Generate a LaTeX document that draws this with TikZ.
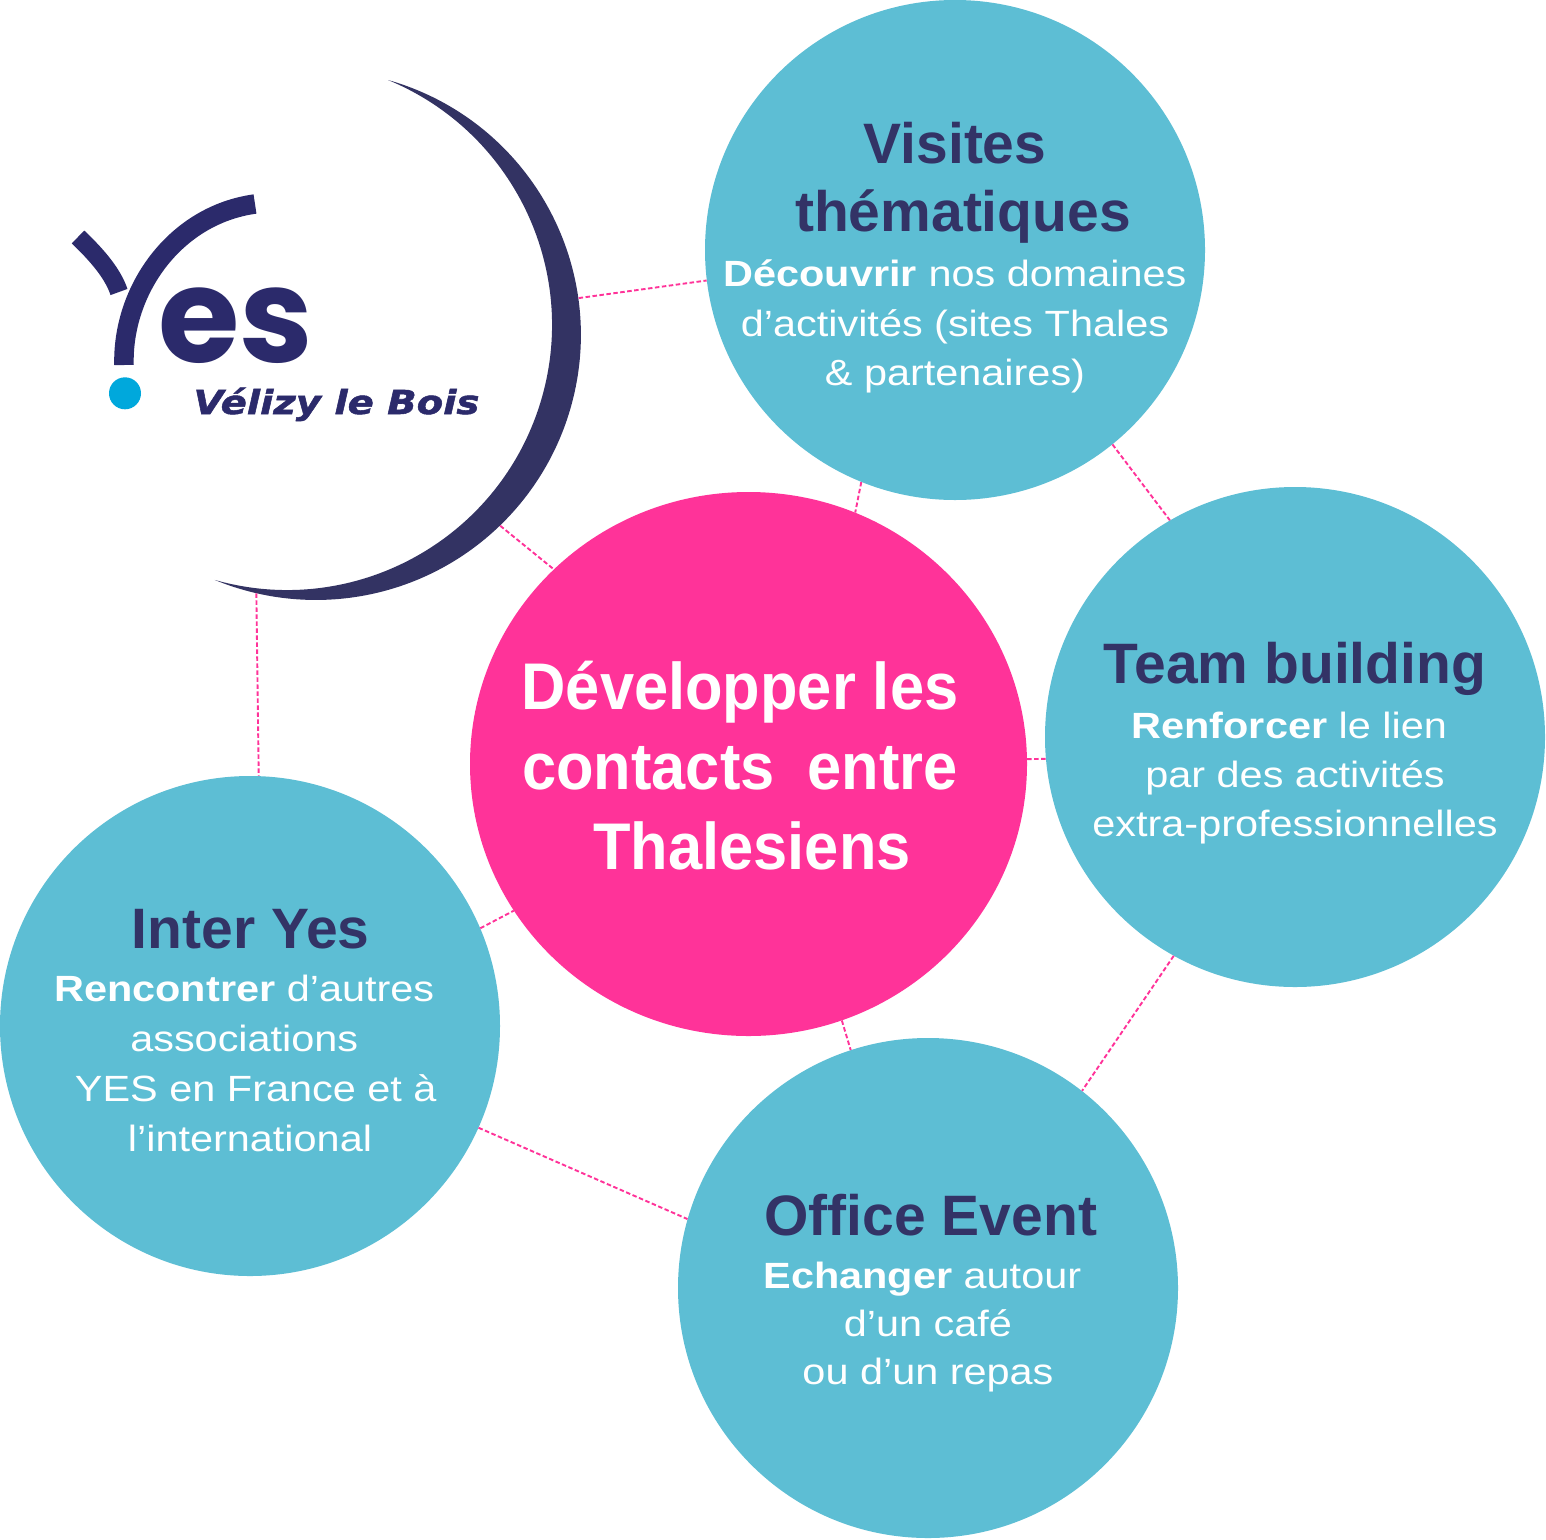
\documentclass[tikz,border=0pt]{standalone}
\usepackage{fontspec}
\usetikzlibrary{shapes.geometric}
\setmainfont{Liberation Sans}
\newfontfamily\titlefam{Liberation Sans}
\newfontfamily\bodyfam[FakeStretch=1.135]{Liberation Sans}
\newfontfamily\pinkfam[FakeStretch=0.93]{Liberation Sans}
\newfontfamily\logofam{Poppins}
\newfontfamily\velfam[FakeStretch=1.17,FakeBold=1.6]{DejaVu Sans}
\definecolor{tealc}{HTML}{5DBED4}
\definecolor{pinkc}{HTML}{FF3399}
\definecolor{navyc}{HTML}{333366}
\definecolor{moonc}{HTML}{333363}
\definecolor{logoc}{HTML}{2B2A6B}
\definecolor{dotc}{HTML}{00A8DC}
\newcommand\linestack[2]{\vtop{\baselineskip=#1\lineskiplimit=-1000pt\lineskip=0pt\halign{\hfil##\hfil\cr#2\crcr}}}
\tikzset{
  bub/.style={circle, fill=tealc, minimum size=500pt, inner sep=0pt},
  conn/.style={draw=pinkc, line width=1.9pt, dash pattern=on 4.5pt off 2.5pt},
  ttl/.style={anchor=base, inner sep=0pt, text=navyc, font=\titlefam\bfseries\fontsize{57}{68.7}\selectfont},
  dsc/.style={anchor=base, inner sep=0pt, text=white, font=\bodyfam\fontsize{36.5}{50}\selectfont},
}
\begin{document}
\begin{tikzpicture}[x=1pt,y=-1pt]
\useasboundingbox (0,0) rectangle (1546,1539);
\fill[white] (0,0) rectangle (1546,1539);
% bubbles
\node[bub] (vis) at (955,250) {};
\node[bub] (team) at (1295,737) {};
\node[bub] (office) at (928,1288) {};
\node[bub] (inter) at (250,1026) {};
\node[ellipse, fill=pinkc, minimum width=557pt, minimum height=544pt, inner sep=0pt] (dev) at (748.5,764) {};
\node[circle, minimum size=530pt, inner sep=0pt] (logo) at (316,335) {};
% crescent
\fill[moonc] (388,80) arc[start angle=-74.2, end angle=112.4, radius=265]
  arc[start angle=105.8, end angle=-67.6, radius=265] -- cycle;
% logo
\draw[logoc, line width=18pt] (78,237) .. controls (98,256) and (113,274) .. (119,292);
\draw[logoc, line width=19.5pt] (124,365) .. controls (122,290) and (175,215) .. (255,204);
\fill[dotc] (125,393.3) circle[radius=16];
\node[anchor=base, inner sep=0pt, text=logoc, font=\logofam\bfseries\fontsize{132}{132}\selectfont] (es) at (235.5,362) {es};
\node[anchor=base, inner sep=0pt, text=logoc, font=\velfam\bfseries\itshape\fontsize{33}{34}\selectfont] (vel) at (336.5,414) {Vélizy le Bois};
% connectors
\draw[conn] (logo.8) -- (vis.187);
\draw[conn] (logo.-46) -- (dev.135);
\draw[conn] (vis.-112) -- (dev.67);
\draw[conn] (vis.-51) -- (team.120);
\draw[conn] (dev.1) -- (team.185);
\draw[conn] (team.-119) -- (office.52);
\draw[conn] (dev.-70) -- (office.108);
\draw[conn] (inter.23) -- (dev.-148);
\draw[conn] (inter.-24) -- (office.164);
\draw[conn] (logo.-103) -- (inter.88);
% texts
\node[ttl] (visT) at (955,163) {\linestack{68.7pt}{Visites\cr \kern16pt thématiques}};
\node[dsc] (visD) at (955,286.7) {\linestack{49.6pt}{\textbf{Découvrir} nos domaines\cr d’activités (sites Thales\cr \& partenaires)}};
\node[ttl] (teamT) at (1295,683.3) {Team building};
\node[dsc] (teamD) at (1295,738.3) {\linestack{49.2pt}{\textbf{Renforcer} le lien\ \cr par des activités\cr extra-professionnelles}};
\node[ttl] (interT) at (250.8,948.3) {Inter Yes};
\node[dsc] (interD) at (250,1001.7) {\linestack{50pt}{\textbf{Rencontrer} d’autres\ \cr associations\ \cr \ YES en France et à\cr l’international}};
\node[ttl] (officeT) at (930.8,1235) {Office Event};
\node[dsc] (officeD) at (928,1288.3) {\linestack{48.3pt}{\textbf{Echanger} autour\ \cr d’un café\cr ou d’un repas}};
\node[anchor=base, inner sep=0pt, text=white, font=\pinkfam\bfseries\fontsize{66}{80}\selectfont] (devT) at (740,709) {\linestack{80pt}{Développer les\cr contacts\hspace{16pt} entre\cr \kern24pt Thalesiens}};
\end{tikzpicture}
\end{document}
